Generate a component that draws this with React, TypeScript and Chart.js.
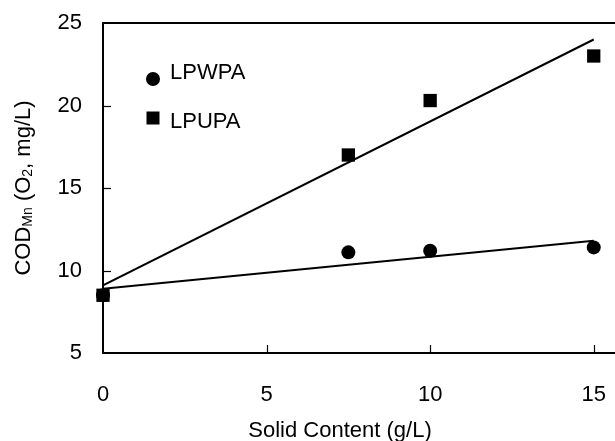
import React, { useEffect, useRef } from "react";
import { Chart, registerables } from "chart.js";

Chart.register(...registerables);

// ---- data ----
const xValues = [0, 7.5, 10, 15];
const lpwpaValues = [8.5, 11.1, 11.2, 11.4];
const lpupaValues = [8.5, 17.0, 20.3, 23.0];
const fitX = [0, 15];
const lpwpaFit = [8.9, 11.8];
const lpupaFit = [9.1, 24.0];
const xTicks = [0, 5, 10, 15];
const yTicks = [5, 10, 15, 20, 25];
const seriesNames = ["LPWPA", "LPUPA"];
const xTitle = "Solid Content (g/L)";

const FONT = "'Liberation Sans', Arial, sans-serif";
const FS = 22;

const decorPlugin = {
  id: "decor",
  afterDraw(chart: any) {
    const { ctx, chartArea, scales } = chart;
    const xs = scales.x;
    const ys = scales.y;
    const { left, top, bottom } = chartArea;
    ctx.save();
    ctx.strokeStyle = "#000";
    ctx.fillStyle = "#000";
    // top frame line
    ctx.lineWidth = 2;
    ctx.beginPath();
    ctx.moveTo(left - 1, top);
    ctx.lineTo(chart.width, top);
    ctx.stroke();
    // inner ticks
    ctx.lineWidth = 1.2;
    xTicks.forEach((v) => {
      if (v === xs.min) return;
      const px = Math.round(xs.getPixelForValue(v)) + 0.5;
      ctx.beginPath();
      ctx.moveTo(px, bottom);
      ctx.lineTo(px, bottom - 8);
      ctx.stroke();
    });
    yTicks.forEach((v) => {
      if (v === ys.min || v === ys.max) return;
      const py = Math.round(ys.getPixelForValue(v)) + 0.5;
      ctx.beginPath();
      ctx.moveTo(left, py);
      ctx.lineTo(left + 8, py);
      ctx.stroke();
    });
    // legend
    const lx = left + 50;
    ctx.beginPath();
    ctx.arc(lx, top + 56, 7, 0, Math.PI * 2);
    ctx.fill();
    ctx.fillRect(lx - 6.5, top + 95 - 6.5, 13, 13);
    ctx.font = `${FS}px ${FONT}`;
    ctx.textAlign = "left";
    ctx.textBaseline = "middle";
    ctx.fillText(seriesNames[0], left + 67, top + 50);
    ctx.fillText(seriesNames[1], left + 67, top + 99);
    // x title
    ctx.textAlign = "center";
    ctx.fillText(xTitle, 340, 431);
    // y title with subscripts
    const segs: [string, boolean][] = [
      ["COD", false],
      ["Mn", true],
      [" (O", false],
      ["2", true],
      [", mg/L)", false],
    ];
    const big = `${FS}px ${FONT}`;
    const small = `${Math.round(FS * 0.65)}px ${FONT}`;
    let total = 0;
    const widths = segs.map(([t, sub]) => {
      ctx.font = sub ? small : big;
      const w = ctx.measureText(t).width;
      total += w;
      return w;
    });
    ctx.translate(30, (top + bottom) / 2);
    ctx.rotate(-Math.PI / 2);
    ctx.textAlign = "left";
    ctx.textBaseline = "alphabetic";
    let cx = -total / 2;
    segs.forEach(([t, sub], i) => {
      ctx.font = sub ? small : big;
      ctx.fillText(t, cx, sub ? 2 : 0);
      cx += widths[i];
    });
    ctx.restore();
  },
};

export default function App() {
  const ref = useRef<HTMLCanvasElement>(null);
  useEffect(() => {
    if (!ref.current) return;
    const chart = new Chart(ref.current, {
      type: "scatter",
      data: {
        datasets: [
          {
            label: seriesNames[1],
            data: xValues.map((x, i) => ({ x, y: lpupaValues[i] })),
            pointStyle: "rect",
            pointRadius: 9.4,
            backgroundColor: "#000",
            borderColor: "#000",
            borderWidth: 0,
            clip: false,
          } as any,
          {
            label: seriesNames[0],
            data: xValues.map((x, i) => ({ x, y: lpwpaValues[i] })),
            pointStyle: "circle",
            pointRadius: 7,
            backgroundColor: "#000",
            borderColor: "#000",
            borderWidth: 0,
            clip: false,
          } as any,
          {
            label: "fit1",
            data: fitX.map((x, i) => ({ x, y: lpupaFit[i] })),
            showLine: true,
            pointRadius: 0,
            borderColor: "#000",
            borderWidth: 2,
            fill: false,
          },
          {
            label: "fit2",
            data: fitX.map((x, i) => ({ x, y: lpwpaFit[i] })),
            showLine: true,
            pointRadius: 0,
            borderColor: "#000",
            borderWidth: 2,
            fill: false,
          },
        ],
      },
      options: {
        responsive: false,
        animation: false,
        events: [],
        layout: { autoPadding: false, padding: { top: 23, right: 0, left: 0, bottom: 0 } },
        plugins: {
          legend: { display: false },
          tooltip: { enabled: false },
        },
        scales: {
          x: {
            type: "linear",
            min: 0,
            max: 15.65,
            afterBuildTicks: (s: any) => {
              s.ticks = xTicks.map((v) => ({ value: v }));
            },
            afterFit: (s: any) => {
              s.height = 88;
              s.paddingLeft = 0;
              s.paddingRight = 0;
            },
            grid: { display: false, drawTicks: false },
            border: { display: true, color: "#000", width: 2 },
            ticks: {
              color: "#000",
              padding: 29,
              maxRotation: 0,
              font: { family: FONT, size: FS },
            },
          },
          y: {
            type: "linear",
            min: 5,
            max: 25,
            afterBuildTicks: (s: any) => {
              s.ticks = yTicks.map((v) => ({ value: v }));
            },
            afterFit: (s: any) => {
              s.width = 103;
              s.paddingTop = 0;
              s.paddingBottom = 0;
            },
            grid: { display: false, drawTicks: false },
            border: { display: true, color: "#000", width: 2 },
            ticks: {
              color: "#000",
              padding: 21,
              font: { family: FONT, size: FS },
            },
          },
        },
      },
      plugins: [decorPlugin],
    });
    return () => chart.destroy();
  }, []);
  return (
    <div style={{ position: "fixed", left: 0, top: 0, width: 615, height: 441, background: "#fff" }}>
      <canvas ref={ref} width={615} height={441} style={{ display: "block" }} />
    </div>
  );
}
